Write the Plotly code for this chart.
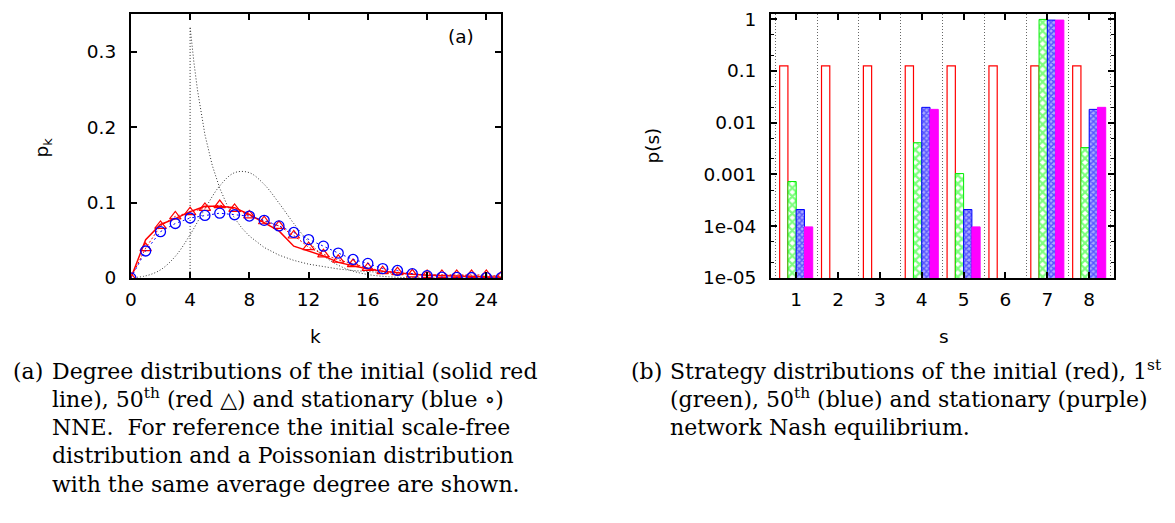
import plotly.graph_objects as go

# ---------------- data: panel (a) degree distributions ----------------
k = list(range(26))
initial_nne = [0, 0.0507, 0.0709, 0.0786, 0.0880, 0.0950, 0.0950, 0.0932, 0.0842, 0.0735,
               0.0623, 0.0421, 0.0357, 0.0292, 0.0206, 0.0163, 0.0120, 0.0090, 0.0064, 0.0048,
               0.0035, 0.0030, 0.0025, 0.0020, 0.0015, 0.0010]
nne_50th = [0, 0.0396, 0.0690, 0.0816, 0.0872, 0.0928, 0.0966, 0.0915, 0.0829, 0.0752,
            0.0690, 0.0563, 0.0408, 0.0313, 0.0241, 0.0184, 0.0133, 0.0090, 0.0077, 0.0048,
            0.0040, 0.0040, 0.0040, 0.0040, 0.0040, 0.0020]
nne_stationary = [0, 0.0357, 0.0614, 0.0722, 0.0795, 0.0829, 0.0859, 0.0838, 0.0821, 0.0764,
                  0.0690, 0.0603, 0.0509, 0.0421, 0.0330, 0.0245, 0.0193, 0.0124, 0.0099, 0.0056,
                  0.0030, 0.0012, 0.0008, 0.0006, 0.0005, 0.0004]

# reference curves
k_scalefree = [4, 4, 4.25, 4.5, 5, 5.5, 6, 6.5, 7, 7.5, 8, 9, 10, 11, 12, 13, 14, 15, 16,
               17, 18, 19, 20, 22, 24, 25]
p_scalefree = [0, 0.333, 0.287, 0.249, 0.190, 0.149, 0.119, 0.0965, 0.0794, 0.0660, 0.0556,
               0.0404, 0.0303, 0.0233, 0.0183, 0.0147, 0.0119, 0.0098, 0.0082, 0.0069, 0.0058,
               0.0050, 0.0043, 0.0033, 0.0026, 0.0023]
k_poisson = list(range(26))
p_poisson = [0.0003, 0.0027, 0.0107, 0.0286, 0.0573, 0.0916, 0.1221, 0.1396, 0.1396, 0.1241,
             0.0993, 0.0722, 0.0481, 0.0296, 0.0169, 0.0090, 0.0045, 0.0021, 0.0009, 0.0004,
             0.0002, 0.0001, 0.0000, 0.0000, 0.0000, 0.0000]

k_ticks = [0, 4, 8, 12, 16, 20, 24]
pk_ticks = [0, 0.1, 0.2, 0.3]
pk_ticktext = ["0", "0.1", "0.2", "0.3"]

# ---------------- data: panel (b) strategy distributions ----------------
strategies = [1, 2, 3, 4, 5, 6, 7, 8]
ps_initial = [0.125, 0.125, 0.125, 0.125, 0.125, 0.125, 0.125, 0.125]
ps_first = [7.3e-4, None, None, 4.1e-3, 1.04e-3, None, 0.991, 3.3e-3]
ps_50th = [2.1e-4, None, None, 0.0198, 2.1e-4, None, 0.962, 0.0181]
ps_stationary = [9.7e-5, None, None, 0.0181, 9.7e-5, None, 0.962, 0.0198]

ps_ticks = [1e-5, 1e-4, 1e-3, 1e-2, 1e-1, 1]
ps_ticktext = ["1e-05", "1e-04", "0.001", "0.01", "0.1", "1"]
ps_minor = [m * 10.0 ** e for e in range(-5, 0) for m in (2, 5)]

W, H = 1175, 523
SANS = "DejaVu Sans"
FS = 18.5
TICKFONT = dict(family=SANS, size=FS, color="black")

fig = go.Figure()

# panel (a)
fig.add_trace(go.Scatter(x=k_scalefree, y=p_scalefree, mode="lines",
                         line=dict(color="#333333", width=1, dash="1px,2px"),
                         xaxis="x", yaxis="y", hoverinfo="skip"))
fig.add_trace(go.Scatter(x=k_poisson, y=p_poisson, mode="lines", line_shape="spline",
                         line=dict(color="#333333", width=1, dash="1px,2px"),
                         xaxis="x", yaxis="y", hoverinfo="skip"))
fig.add_trace(go.Scatter(x=k, y=initial_nne, mode="lines",
                         line=dict(color="#ff0000", width=1.5),
                         xaxis="x", yaxis="y"))
fig.add_trace(go.Scatter(x=k, y=nne_50th, mode="lines+markers",
                         line=dict(color="#ff0000", width=1, dash="2px,2px"),
                         marker=dict(symbol="triangle-up-open", size=10, color="#ff0000",
                                     line=dict(width=1.2)),
                         xaxis="x", yaxis="y"))
fig.add_trace(go.Scatter(x=k, y=nne_stationary, mode="lines+markers",
                         line=dict(color="#0000ff", width=1, dash="2px,3px"),
                         marker=dict(symbol="circle-open", size=10, color="#0000ff",
                                     line=dict(width=1.3)),
                         xaxis="x", yaxis="y"))

# panel (b)
fig.add_trace(go.Bar(x=strategies, y=ps_initial, xaxis="x2", yaxis="y2",
                     marker=dict(color="white", line=dict(color="#ff0000", width=1.2))))
fig.add_trace(go.Bar(x=strategies, y=ps_first, xaxis="x2", yaxis="y2",
                     marker=dict(color="white", line=dict(color="#00ee00", width=1),
                                 pattern=dict(shape="x", fgcolor="#00ff00", bgcolor="white",
                                              size=6, solidity=0.6))))
fig.add_trace(go.Bar(x=strategies, y=ps_50th, xaxis="x2", yaxis="y2",
                     marker=dict(color="white", line=dict(color="#0000ff", width=1),
                                 pattern=dict(shape="x", fgcolor="#0000ff", bgcolor="#aaaaff",
                                              size=4, solidity=0.6))))
fig.add_trace(go.Bar(x=strategies, y=ps_stationary, xaxis="x2", yaxis="y2",
                     marker=dict(color="#ff00ff", line=dict(color="#ff00ff", width=1))))

common = dict(showline=True, linecolor="black", linewidth=2, mirror="allticks",
              ticks="inside", ticklen=6, tickwidth=1.5, tickcolor="black",
              showgrid=False, zeroline=False, tickfont=TICKFONT)

y_dom = [(H - 281) / H, (H - 9.3) / H]

fig.update_layout(
    width=W, height=H, margin=dict(l=0, r=0, t=0, b=0),
    paper_bgcolor="white", plot_bgcolor="white", showlegend=False,
    font=dict(family=SANS, color="black"),
    barmode="group", bargap=0.21, bargroupgap=0,
    xaxis=dict(domain=[125.5 / W, 497.7 / W], range=[0, 25], tickmode="array",
               tickvals=k_ticks, anchor="y", ticklabelstandoff=4, **common),
    yaxis=dict(domain=y_dom, range=[0, 0.35], tickmode="array", tickvals=pk_ticks,
               ticktext=pk_ticktext, anchor="x", ticklabelstandoff=9, **common),
    xaxis2=dict(domain=[769 / W, 1114 / W], range=[0.4, 8.6], tickmode="array",
                tickvals=strategies, anchor="y2", ticklabelstandoff=4,
                minor=dict(tickmode="linear", tick0=0.5, dtick=1, showgrid=True,
                           griddash="1px,2px", gridcolor="#666666", gridwidth=1, ticks=""),
                **common),
    yaxis2=dict(domain=y_dom, type="log", range=[-5, 0.1], tickmode="array",
                tickvals=ps_ticks, ticktext=ps_ticktext, anchor="x2", ticklabelstandoff=9,
                minor=dict(tickmode="array", tickvals=ps_minor, ticks="inside", ticklen=3,
                           tickwidth=1, tickcolor="black"),
                **common),
)

LBL = dict(family=SANS, size=FS, color="black")
ann = []
ann.append(dict(text="(a)", x=457 / W, y=(H - 32) / H, xref="paper", yref="paper",
                xanchor="center", yanchor="middle", showarrow=False, font=LBL))
ann.append(dict(text="p<sub>k</sub>", x=37 / W, y=(H - 147) / H, xref="paper", yref="paper",
                xanchor="center", yanchor="middle", showarrow=False, textangle=-90, font=LBL))
ann.append(dict(text="k", x=311 / W, y=(H - 341) / H, xref="paper", yref="paper",
                xanchor="center", yanchor="middle", showarrow=False, font=LBL))
ann.append(dict(text="s", x=943 / W, y=(H - 341) / H, xref="paper", yref="paper",
                xanchor="center", yanchor="middle", showarrow=False, font=LBL))
ann.append(dict(text="p(s)", x=650 / W, y=(H - 145) / H, xref="paper", yref="paper",
                xanchor="center", yanchor="middle", showarrow=False, textangle=-90, font=LBL))

CFS = 22
CAP = dict(family="DejaVu Serif", size=CFS, color="black")
cap_a_lines = ["Degree distributions of the initial (solid red",
               "line), 50<sup>th</sup> (red △) and stationary (blue ∘)",
               "NNE.  For reference the initial scale-free",
               "distribution and a Poissonian distribution",
               "with the same average degree are shown."]
cap_b_lines = ["Strategy distributions of the initial (red), 1<sup>st</sup>",
               "(green), 50<sup>th</sup> (blue) and stationary (purple)",
               "network Nash equilibrium."]
baselines = [386, 415, 444, 473, 502]
desc = 0.236 * CFS


def cap_line(text, xpx, base):
    return dict(text=text, x=xpx / W, y=(H - (base + desc)) / H, xref="paper", yref="paper",
                xanchor="left", yanchor="bottom", align="left", showarrow=False,
                borderpad=0, font=CAP)


ann.append(cap_line("(a)", 6, baselines[0]))
for line, b in zip(cap_a_lines, baselines):
    ann.append(cap_line(line, 45, b))
ann.append(cap_line("(b)", 627, baselines[0]))
for line, b in zip(cap_b_lines, baselines):
    ann.append(cap_line(line, 666, b))
fig.update_layout(annotations=ann)

fig.write_html("out.html")
